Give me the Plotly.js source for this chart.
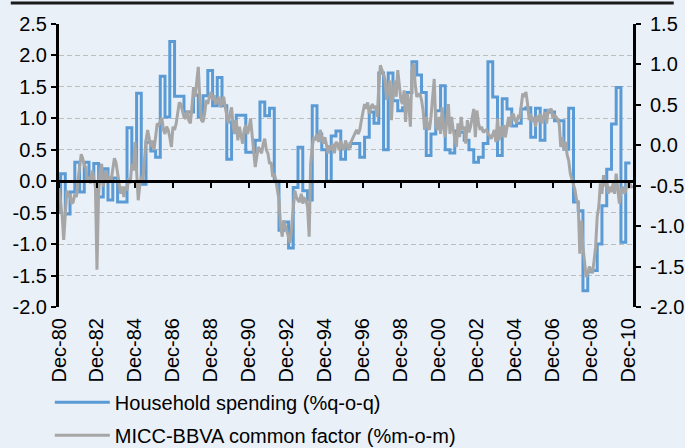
<!DOCTYPE html>
<html><head><meta charset="utf-8">
<script src="https://cdn.plot.ly/plotly-3.0.1.min.js"></script>
<style>html,body{margin:0;padding:0;background:#EAF0F7;}#chart{width:685px;height:448px;}</style>
</head><body><div id="chart"></div>
<script>
// Household spending, % q-o-q, quarters Q4-1980 .. Q4-2010 (left axis)
const spendingFirstQuarter = {year: 1980, quarter: 4};
const householdSpending = [
 -0.52, 0.12, -0.52, -0.17, 0.30, -0.17, 0.30, 0.05, 0.28, -0.25,
 0.20, -0.30, 0.05, -0.33, -0.33, 0.85, 0.20, 1.40, -0.05, 0.62,
 0.48, 0.38, 1.67, 1.02, 2.22, 1.35, 1.35, 1.10, 1.10, 1.37,
 1.02, 1.36, 1.76, 1.20, 1.65, 1.20, 0.35, 0.94, 1.05, 1.05,
 0.46, 0.46, 0.65, 1.26, 1.04, 1.16, 0.00, -0.78, -0.65, -1.06,
 -0.10, 0.54, -0.15, -0.30, 1.20, 0.75, 0.50, 0.00, 0.72, 0.80,
 0.35, 0.55, 0.60, 0.60, 0.38, 0.70, 1.10, 0.92, 1.72, 0.50,
 1.72, 1.28, 1.12, 1.17, 1.41, 1.90, 1.69, 1.41, 0.41, 0.75,
 1.12, 1.52, 0.50, 0.45, 0.80, 0.78, 0.65, 0.50, 0.30, 0.38,
 0.60, 1.90, 1.34, 0.41, 1.31, 1.15, 0.88, 0.92, 1.15, 1.17,
 0.70, 1.16, 0.65, 1.13, 1.10, 0.96, 0.96, 0.51, 1.16, -0.33,
 -0.47, -1.74, -1.44, -1.42, -1.00, -0.39, 0.19, 0.91, 1.49, -0.97, 0.29
];
// MICC-BBVA common factor, % m-o-m, months Dec-1980 .. Feb-2011 (right axis)
const miccFirstMonth = {year: 1980, month: 12};
const miccFactor = [
 -0.53,-0.72,-0.88,-1.17,-0.80,-0.56,-0.64,-0.60,-0.72,-0.70,
 -0.60,-0.64,-0.43,-0.27,-0.11,-0.16,-0.25,-0.27,-0.45,-0.39,
 -0.47,-0.31,-0.39,-0.51,-1.54,-0.60,-0.31,-0.23,-0.51,-0.39,
 -0.31,-0.45,-0.39,-0.43,-0.31,-0.16,-0.21,-0.35,-0.51,-0.60,
 -0.51,-0.64,-0.51,-0.56,-0.41,-0.47,-0.23,-0.31,0.04,-0.31,
 -0.68,-0.51,-0.39,-0.43,-0.14,0.06,0.19,0.10,-0.02,0.06,
 -0.06,0.10,0.27,0.25,0.31,0.34,0.19,0.14,0.23,0.19,
 0.10,-0.02,0.23,0.19,0.27,0.39,0.53,0.51,0.43,0.35,
 0.33,0.43,0.31,0.27,0.47,0.72,0.60,0.80,0.97,
 0.56,0.31,0.29,0.39,0.56,0.51,0.60,0.66,0.56,0.62,
 0.51,0.55,0.60,0.47,0.53,0.60,0.47,0.35,0.27,0.39,
 0.47,0.23,0.14,0.31,0.06,0.23,0.10,0.02,0.19,0.25,
 0.14,0.20,0.33,0.10,-0.06,-0.27,-0.14,-0.02,-0.06,-0.10,
 0.02,0.08,-0.06,-0.10,-0.23,-0.21,-0.39,-0.35,-0.43,-0.56,
 -0.68,-1.01,-1.13,-0.93,-1.01,-1.07,-1.13,-1.21,-1.01,-0.76,
 -0.56,-0.64,-0.68,-0.70,-0.60,-0.72,-0.66,-0.68,-0.76,-1.13,
 -0.23,-0.02,0.10,0.08,0.14,0.04,0.19,0.10,0.02,0.10,
 -0.02,-0.10,0.00,-0.06,0.02,-0.10,0.04,0.02,-0.06,0.06,
 -0.02,-0.06,0.06,-0.02,-0.06,0.02,
 0.06,0.10,0.14,0.19,0.14,0.19,0.31,0.39,0.51,0.45,
 0.53,0.39,0.47,0.51,0.45,0.49,0.35,0.72,0.99,0.93,
 0.88,0.80,0.56,0.72,0.80,0.31,0.68,0.80,0.60,0.93,
 0.76,0.56,0.51,0.68,0.29,0.64,0.51,0.23,0.93,1.01,
 0.76,0.60,0.62,0.64,0.56,0.43,0.19,0.35,0.23,0.19,
 0.35,0.64,0.82,0.27,0.19,0.35,0.14,0.47,0.23,0.10,
 0.31,0.51,0.14,0.35,0.19,0.10,-0.02,0.27,0.10,0.35,
 0.19,0.23,0.02,0.31,0.16,0.23,0.35,0.45,0.10,0.43,
 0.27,0.19,0.23,0.16,0.18,0.19,0.14,0.12,0.08,0.14,
 0.19,0.04,0.33,0.06,0.23,0.10,0.25,0.10,0.23,0.35,
 0.23,0.37,0.39,0.31,0.29,0.35,0.33,0.47,0.64,0.60,
 0.66,0.51,0.31,0.39,0.29,0.35,0.23,0.37,0.29,0.39,
 0.27,0.35,0.41,0.27,0.43,0.43,0.45,0.33,0.37,0.35,
 0.30,0.27,-0.02,0.10,-0.06,0.04,-0.12,-0.19,-0.35,-0.43,
 -0.49,-0.56,-0.68,-0.72,-1.34,-0.93,-1.26,-1.50,-1.63,-1.58,
 -1.50,-1.55,-1.58,-1.42,-1.26,-0.88,-0.76,-0.47,-0.60,-0.37,
 -0.51,-0.43,-0.60,-0.51,-0.58,-0.47,-0.60,-0.35,-0.50,-0.72,
 -0.58,-0.51,-0.60,-0.56,-0.47,-0.51,-0.49,-0.53
];
const xTickDates = ['1980-12-01','1982-12-01','1984-12-01','1986-12-01','1988-12-01','1990-12-01','1992-12-01','1994-12-01','1996-12-01','1998-12-01','2000-12-01','2002-12-01','2004-12-01','2006-12-01','2008-12-01','2010-12-01'];
const xTickText = ['Dec-80','Dec-82','Dec-84','Dec-86','Dec-88','Dec-90','Dec-92','Dec-94','Dec-96','Dec-98','Dec-00','Dec-02','Dec-04','Dec-06','Dec-08','Dec-10'];
const leftTicks = [-2,-1.5,-1,-0.5,0,0.5,1,1.5,2,2.5];
const leftTickText = ['-2.0','-1.5','-1.0','-0.5','0.0','0.5','1.0','1.5','2.0','2.5'];
const rightTicks = [-2,-1.5,-1,-0.5,0,0.5,1,1.5];
const rightTickText = ['-2.0','-1.5','-1.0','-0.5','0.0','0.5','1.0','1.5'];
const xRange = ['1980-12-01','2011-02-18'];

function monthDate(year, month, offset){
  const t = year*12 + (month-1) + offset;
  const y = Math.floor(t/12), m = t%12 + 1;
  return y + '-' + String(m).padStart(2,'0') + '-01';
}
// each quarterly value is drawn over its quarter, ending at the first day of the next quarter
const spendingDates = householdSpending.map((v,i)=>monthDate(spendingFirstQuarter.year, spendingFirstQuarter.quarter*3, 1+3*i));
const miccDates = miccFactor.map((v,i)=>monthDate(miccFirstMonth.year, miccFirstMonth.month, i));

const font = {family:'"Liberation Sans", Arial, sans-serif', size:20, color:'#000'};
const bg = '#EAF0F7';

const traces = [
  {x: spendingDates, y: householdSpending, type:'scatter', mode:'lines', name:'Household spending (%q-o-q)',
   line:{color:'#5B9BD5', width:3, shape:'vh'}, xaxis:'x', yaxis:'y', legendgroup:'a', hoverinfo:'skip'},
  {x: miccDates, y: miccFactor, type:'scatter', mode:'lines', name:'MICC-BBVA common factor (%m-o-m)',
   line:{color:'#A6A6A6', width:3}, xaxis:'x2', yaxis:'y2', legendgroup:'b', hoverinfo:'skip'}
];
const layout = {
  width:685, height:448, paper_bgcolor:bg, plot_bgcolor:bg, font:font,
  margin:{l:59, r:52, t:24, b:141, autoexpand:false},
  showlegend:true,
  legend:{x:-0.016, y:-0.268, xanchor:'left', yanchor:'top', orientation:'v', font:font,
          bgcolor:'rgba(0,0,0,0)', itemwidth:55, tracegroupgap:4, traceorder:'grouped'},
  // bottom axis: date labels only
  xaxis:{type:'date', range:xRange, anchor:'y', side:'bottom', tickvals:xTickDates, ticktext:xTickText,
         tickangle:-90, ticks:'', showline:false, showgrid:false, zeroline:false, tickfont:font, ticklabelstandoff:6},
  // axis line crossing at zero of the left scale, with tick marks
  xaxis2:{type:'date', range:xRange, overlaying:'x', anchor:'free', position:(0-(-2))/4.5, side:'bottom',
          showline:true, linecolor:'#000', linewidth:3, ticks:'outside', ticklen:5, tickwidth:2, tickcolor:'#000',
          tickvals:xTickDates, showticklabels:false, showgrid:false, zeroline:false},
  yaxis:{range:[-2,2.5], tickvals:leftTicks, ticktext:leftTickText, showline:true, linecolor:'#000', linewidth:3,
         ticks:'outside', ticklen:5, tickwidth:2, tickcolor:'#000', showgrid:true, gridcolor:'#BDBDBD', gridwidth:1,
         griddash:'5px,3px', zeroline:false, tickfont:font},
  yaxis2:{range:[-2,1.5], overlaying:'y', side:'right', anchor:'x', tickvals:rightTicks, ticktext:rightTickText, showline:true,
          linecolor:'#000', linewidth:3, ticks:'outside', ticklen:5, tickwidth:2, tickcolor:'#000', showgrid:false,
          zeroline:false, tickfont:font, ticklabelstandoff:5},
  shapes:[{type:'line', xref:'paper', yref:'paper', x0:-0.084, x1:1.071, y0:1.074, y1:1.074, line:{color:'#1a1a1a', width:3}}]
};
Plotly.newPlot('chart', traces, layout, {staticPlot:true, displayModeBar:false});
</script></body></html>
